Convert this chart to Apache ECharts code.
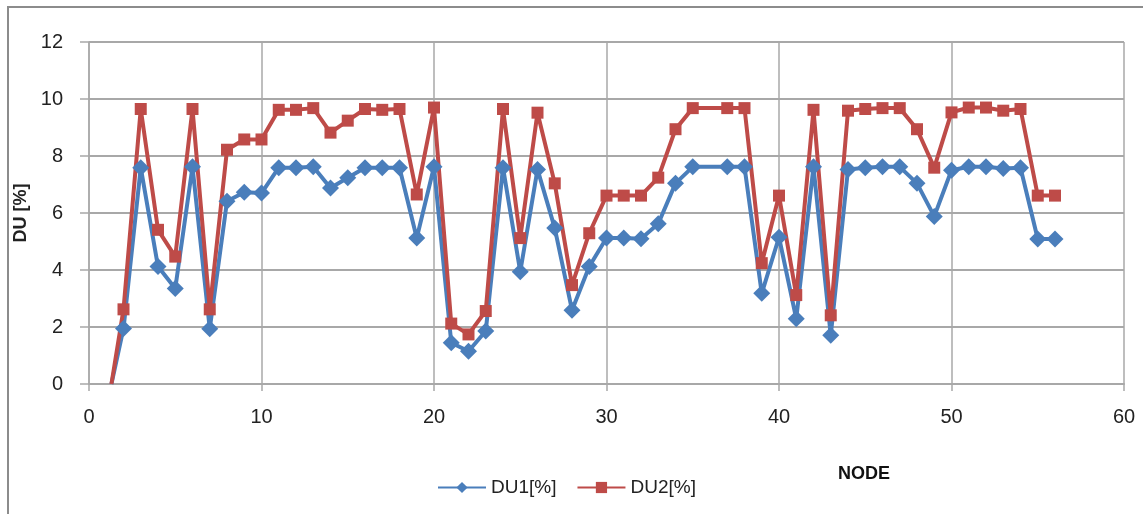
<!DOCTYPE html>
<html>
<head>
<meta charset="utf-8">
<style>
  html, body { margin: 0; padding: 0; background: #fff; }
  #chart { width: 1143px; height: 514px; }
</style>
<script src="https://cdn.jsdelivr.net/npm/echarts@6/dist/echarts.min.js"></script>
</head>
<body>
<div id="chart"></div>
<script>
// node numbers (node 36 has no reading)
const nodes = [1.3, 2, 3, 4, 5, 6, 7, 8, 9, 10, 11, 12, 13, 14, 15, 16, 17, 18, 19, 20,
  21, 22, 23, 24, 25, 26, 27, 28, 29, 30, 31, 32, 33, 34, 35, 37, 38, 39, 40,
  41, 42, 43, 44, 45, 46, 47, 48, 49, 50, 51, 52, 53, 54, 55, 56]

const du1 = [0, 1.95, 7.59, 4.12, 3.35, 7.62, 1.94, 6.41, 6.73, 6.70, 7.59, 7.59, 7.62, 6.88, 7.24, 7.59, 7.59, 7.59, 5.12, 7.62,
  1.45, 1.15, 1.86, 7.59, 3.94, 7.53, 5.47, 2.59, 4.12, 5.12, 5.12, 5.10, 5.62, 7.04, 7.62, 7.62, 7.62, 3.18, 5.15,
  2.29, 7.62, 1.71, 7.53, 7.59, 7.62, 7.62, 7.04, 5.88, 7.50, 7.62, 7.62, 7.56, 7.59, 5.09, 5.09]

const du2 = [0, 2.62, 9.65, 5.41, 4.47, 9.65, 2.62, 8.22, 8.58, 8.58, 9.62, 9.62, 9.68, 8.82, 9.24, 9.65, 9.62, 9.65, 6.65, 9.70,
  2.12, 1.74, 2.56, 9.65, 5.12, 9.52, 7.04, 3.47, 5.29, 6.61, 6.61, 6.61, 7.24, 8.94, 9.68, 9.68, 9.68, 4.24, 6.61,
  3.12, 9.62, 2.41, 9.59, 9.65, 9.68, 9.68, 8.94, 7.59, 9.53, 9.70, 9.70, 9.59, 9.65, 6.61, 6.61]

const xTicks = { min: 0, max: 60, interval: 10 }
const yTicks = { min: 0, max: 12, interval: 2 }

const FONT = 'Liberation Sans'
const BLUE = '#4a7ebb'
const RED = '#be4b48'
const GRID = '#a8a8a8'

// first point has no marker in the original
function toPoints(vals) {
  return vals.map((v, i) => i === 0 ? { value: [nodes[i], v], symbol: 'none' } : [nodes[i], v])
}

const chart = echarts.init(document.getElementById('chart'))

chart.setOption({
  animation: false,
  backgroundColor: '#fff',
  textStyle: { fontFamily: FONT },
  grid: { left: 89, right: 19, top: 42, bottom: 130 },
  legend: {
    left: 432, top: 473,
    itemWidth: 48, itemHeight: 14, itemGap: 20,
    textStyle: { fontSize: 19, color: '#222', fontFamily: FONT },
    data: ['DU1[%]', 'DU2[%]'],
  },
  xAxis: {
    type: 'value',
    min: xTicks.min, max: xTicks.max, interval: xTicks.interval,
    axisLine: { show: true, onZero: false, lineStyle: { color: GRID, width: 2 } },
    axisTick: { show: true, length: 7, lineStyle: { color: GRID, width: 1.5 } },
    axisLabel: { color: '#222', fontSize: 20, margin: 23 },
    splitLine: { show: true, lineStyle: { color: GRID, width: 1.5 } },
  },
  yAxis: {
    type: 'value',
    min: yTicks.min, max: yTicks.max, interval: yTicks.interval,
    name: 'DU [%]',
    nameLocation: 'middle',
    nameRotate: 90,
    nameGap: 59,
    nameTextStyle: { fontSize: 18, fontWeight: 'bold', color: '#222', fontFamily: FONT },
    axisLine: { show: true, lineStyle: { color: GRID, width: 1.5 } },
    axisTick: { show: true, length: 9, lineStyle: { color: GRID, width: 1.5 } },
    axisLabel: { color: '#222', fontSize: 20, margin: 26 },
    splitLine: { show: true, lineStyle: { color: GRID, width: 2 } },
  },
  graphic: [
    {
      type: 'rect',
      shape: { x: 8, y: 7, width: 1400, height: 700 },
      style: { fill: 'none', stroke: '#8c8c8c', lineWidth: 2 },
      silent: true,
    },
    {
      type: 'text',
      left: 838, top: 465,
      style: { text: 'NODE', font: 'bold 18px "Liberation Sans"', fill: '#111' },
    },
  ],
  series: [
    {
      name: 'DU1[%]',
      type: 'line',
      data: toPoints(du1),
      symbol: 'diamond',
      symbolSize: 17,
      lineStyle: { color: BLUE, width: 4 },
      itemStyle: { color: BLUE },
    },
    {
      name: 'DU2[%]',
      type: 'line',
      data: toPoints(du2),
      symbol: 'rect',
      symbolSize: 12,
      lineStyle: { color: RED, width: 4 },
      itemStyle: { color: RED },
    },
  ],
})
</script>
</body>
</html>
